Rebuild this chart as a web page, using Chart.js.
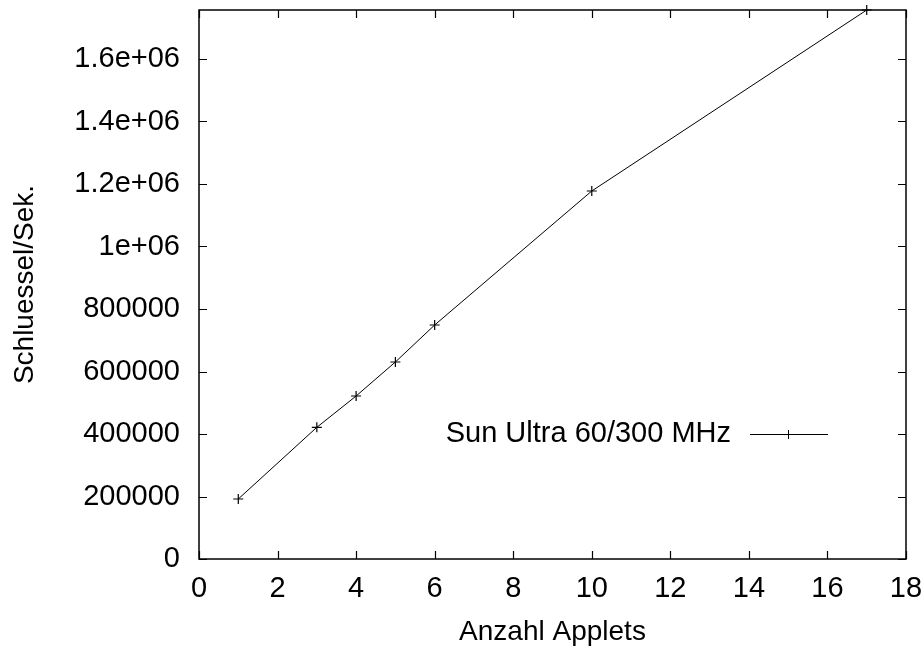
<!DOCTYPE html>
<html>
<head>
<meta charset="utf-8">
<script src="https://cdn.jsdelivr.net/npm/chart.js@4/dist/chart.umd.min.js"></script>
<style>
html,body{margin:0;padding:0;background:#fff;}
#wrap{width:924px;height:649px;}
</style>
</head>
<body>
<div id="wrap"><canvas id="c" width="924" height="649"></canvas></div>
<script>
const applets = [1, 3, 4, 5, 6, 10, 17];
const keysPerSec = [192000, 421400, 521600, 630400, 748800, 1177600, 1756800];
const seriesLabel = "Sun Ultra 60/300 MHz";
const xTicks = [0, 2, 4, 6, 8, 10, 12, 14, 16, 18];
const yTicks = [0, 200000, 400000, 600000, 800000, 1000000, 1200000, 1400000, 1600000];
const yTickLabels = ["0", "200000", "400000", "600000", "800000", "1e+06", "1.2e+06", "1.4e+06", "1.6e+06"];
const xTitle = "Anzahl Applets";
const yTitle = "Schluessel/Sek.";

const FONT = "'Liberation Sans', Arial, sans-serif";
const TICK_SIZE = 29;
const TITLE_SIZE = 28;

const frameTicks = {
  id: 'frameTicks',
  afterDraw(chart) {
    const ctx = chart.ctx, a = chart.chartArea;
    const xs = chart.scales.x, ys = chart.scales.y;
    ctx.save();
    ctx.strokeStyle = '#000';
    ctx.lineWidth = 1.5;
    ctx.strokeRect(a.left, a.top, a.right - a.left, a.bottom - a.top);
    ctx.lineWidth = 1.2;
    const L = 8;
    ctx.beginPath();
    xTicks.forEach(v => {
      const px = Math.round(xs.getPixelForValue(v)) + 0.5;
      ctx.moveTo(px, a.bottom); ctx.lineTo(px, a.bottom - L);
      ctx.moveTo(px, a.top); ctx.lineTo(px, a.top + L);
    });
    yTicks.forEach(v => {
      const py = Math.round(ys.getPixelForValue(v)) + 0.5;
      ctx.moveTo(a.left, py); ctx.lineTo(a.left + L, py);
      ctx.moveTo(a.right, py); ctx.lineTo(a.right - L, py);
    });
    ctx.stroke();
    // legend inside plot
    const ly = 434, lx1 = 750, lx2 = 828;
    ctx.font = TICK_SIZE + "px " + FONT;
    ctx.fillStyle = '#000';
    ctx.textAlign = 'right';
    ctx.textBaseline = 'middle';
    ctx.fillText(seriesLabel, 731, ly);
    ctx.lineWidth = 1;
    ctx.beginPath();
    ctx.moveTo(lx1, ly + 0.5); ctx.lineTo(lx2, ly + 0.5);
    const mx = 788.5;
    ctx.moveTo(mx, ly - 4); ctx.lineTo(mx, ly + 5);
    ctx.stroke();
    ctx.restore();
  }
};

function zeroPad(s) { s.paddingTop = 0; s.paddingBottom = 0; s.paddingLeft = 0; s.paddingRight = 0; }

new Chart(document.getElementById('c'), {
  type: 'scatter',
  data: {
    datasets: [{
      label: seriesLabel,
      data: applets.map((x, i) => ({ x: x, y: keysPerSec[i] })),
      showLine: true,
      borderColor: '#000',
      backgroundColor: '#000',
      borderWidth: 1,
      pointStyle: 'cross',
      pointRadius: 5,
      pointBorderWidth: 1.2,
      pointBorderColor: '#000',
      tension: 0,
      clip: false
    }]
  },
  options: {
    responsive: false,
    animation: false,
    devicePixelRatio: 1,
    layout: { padding: { top: 10, right: 18, left: 0, bottom: 0 } },
    plugins: { legend: { display: false }, tooltip: { enabled: false } },
    scales: {
      x: {
        type: 'linear', min: 0, max: 18,
        grid: { display: false, drawTicks: false },
        border: { display: false },
        afterFit(s) { s.height = 90; zeroPad(s); },
        afterBuildTicks(s) { s.ticks = xTicks.map(v => ({ value: v })); },
        ticks: { color: '#000', font: { family: FONT, size: TICK_SIZE }, padding: 13, maxRotation: 0, autoSkip: false,
                 callback: v => String(v) },
        title: { display: true, text: xTitle, color: '#000', font: { family: FONT, size: TITLE_SIZE }, padding: { top: 4, bottom: 0 } }
      },
      y: {
        type: 'linear', min: 0, max: 1756800,
        grid: { display: false, drawTicks: false },
        border: { display: false },
        afterFit(s) { s.width = 199; zeroPad(s); },
        afterBuildTicks(s) { s.ticks = yTicks.map(v => ({ value: v })); },
        ticks: { color: '#000', font: { family: FONT, size: TICK_SIZE }, padding: 19, autoSkip: false,
                 callback: v => { const i = yTicks.indexOf(v); return i >= 0 ? yTickLabels[i] : ''; } },
        title: { display: true, text: yTitle, color: '#000', font: { family: FONT, size: TITLE_SIZE }, padding: { top: 8, bottom: 8 } }
      }
    }
  },
  plugins: [frameTicks]
});
</script>
</body>
</html>
